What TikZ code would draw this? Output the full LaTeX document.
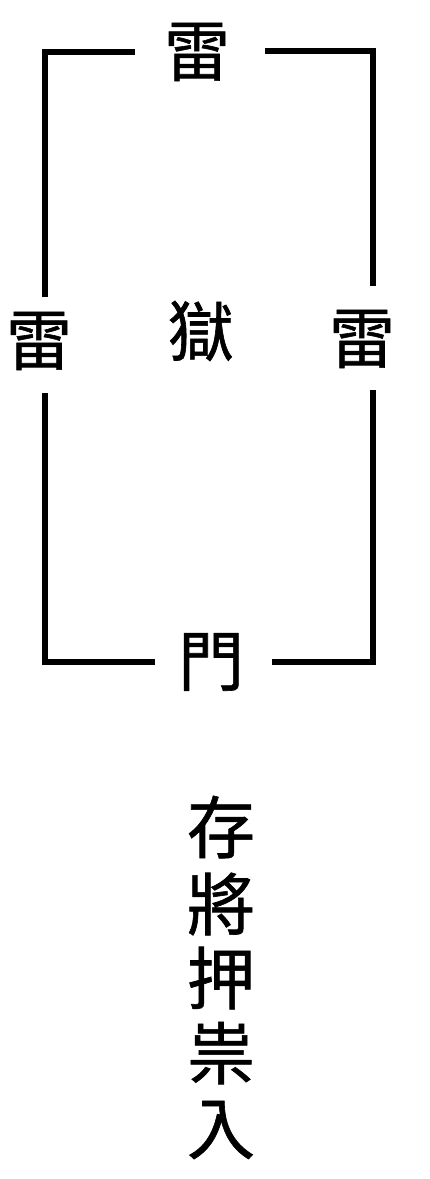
\documentclass[tikz,border=0pt]{standalone}
\usepackage{fontspec}
\newfontfamily\cjk[FakeBold=0.9]{Noto Sans CJK TC}
\begin{document}
\begin{tikzpicture}[x=1pt,y=-1pt,
  frame/.style={line width=6.5pt,line join=miter,black},
  ch/.style={font=\cjk\fontsize{66}{66}\selectfont,inner sep=0pt,anchor=center},
  vch/.style={font=\cjk\fontsize{68}{68}\selectfont,inner sep=0pt,anchor=center}]
\useasboundingbox[fill=white] (0,0) rectangle (430,1179);
% characters
\node[ch] (top) at (197,52) {雷};
\node[ch] (left) at (39,341) {雷};
\node[ch] (mid) at (201,331) {獄};
\node[ch] (right) at (362,339) {雷};
\node[ch] (door) at (211,662) {門};
\node[vch] (v1) at (221,827) {存};
\node[vch] (v2) at (221,904) {將};
\node[vch] (v3) at (221,978) {押};
\node[vch] (v4) at (221,1053) {祟};
\node[vch] (v5) at (221,1130) {入};
% frame corners
\coordinate (a1) at (135,52);
\coordinate (a2) at (45,52);
\coordinate (a3) at (45,297);
\coordinate (b1) at (265,51);
\coordinate (b2) at (373,51);
\coordinate (b3) at (373,286);
\coordinate (c1) at (45,393);
\coordinate (c2) at (45,662);
\coordinate (c3) at (155,662);
\coordinate (d1) at (272,662);
\coordinate (d2) at (373,662);
\coordinate (d3) at (373,390);
\draw[frame] (a1) -- (a2) -- (a3);
\draw[frame] (b1) -- (b2) -- (b3);
\draw[frame] (c1) -- (c2) -- (c3);
\draw[frame] (d1) -- (d2) -- (d3);
\end{tikzpicture}
\end{document}
